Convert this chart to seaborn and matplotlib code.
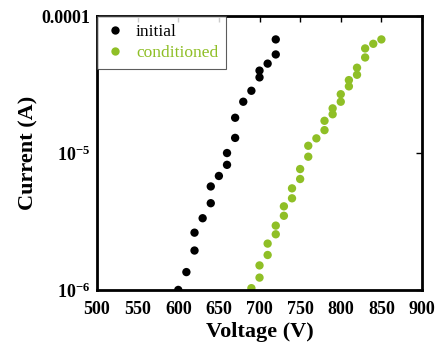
import numpy as np
import pandas as pd
import matplotlib
matplotlib.use('Agg')
import matplotlib.pyplot as plt
import seaborn as sns
from matplotlib.ticker import FuncFormatter, FixedLocator

# data
initial_v = [600, 610, 620, 620, 630, 640, 640, 650, 660, 660, 670, 670,
             680, 690, 700, 700, 710, 720, 720]
initial_i = [1.0e-6, 1.35e-6, 1.94e-6, 2.62e-6, 3.34e-6, 4.3e-6, 5.7e-6,
             6.8e-6, 8.2e-6, 1.0e-5, 1.29e-5, 1.81e-5, 2.37e-5, 2.85e-5,
             3.57e-5, 4.0e-5, 4.5e-5, 5.25e-5, 6.76e-5]
cond_v = [690, 700, 700, 710, 710, 720, 720, 730, 730, 740, 740, 750, 750,
          760, 760, 770, 780, 780, 790, 790, 800, 800, 810, 810, 820, 820,
          830, 830, 840, 850]
cond_i = [1.03e-6, 1.23e-6, 1.51e-6, 1.8e-6, 2.18e-6, 2.55e-6, 2.95e-6,
          3.48e-6, 4.08e-6, 4.67e-6, 5.52e-6, 6.46e-6, 7.64e-6, 9.4e-6,
          1.13e-5, 1.28e-5, 1.47e-5, 1.72e-5, 1.92e-5, 2.12e-5, 2.37e-5,
          2.69e-5, 3.07e-5, 3.41e-5, 3.73e-5, 4.2e-5, 4.99e-5, 5.81e-5,
          6.28e-5, 6.76e-5]
series_names = ['initial', 'conditioned']
series_colors = ['#000000', '#8fbf26']

df = pd.DataFrame({
    'voltage': initial_v + cond_v,
    'current': initial_i + cond_i,
    'state': ['initial'] * len(initial_v) + ['conditioned'] * len(cond_v),
})

sns.set_theme(style='white')
plt.rcParams['font.family'] = ['Liberation Serif', 'DejaVu Serif']
plt.rcParams['text.color'] = 'black'
plt.rcParams['axes.labelcolor'] = 'black'
plt.rcParams['mathtext.fontset'] = 'custom'
plt.rcParams['mathtext.rm'] = 'Liberation Serif:bold'
plt.rcParams['mathtext.bf'] = 'Liberation Serif:bold'
plt.rcParams['mathtext.default'] = 'bf'

fig = plt.figure(figsize=(4.38, 3.51), dpi=100)
ax = fig.add_axes([0.2215, 0.174, 0.742, 0.780])

sns.scatterplot(data=df, x='voltage', y='current', hue='state',
                hue_order=series_names, palette=dict(zip(series_names, series_colors)),
                s=36, edgecolor='none', linewidth=0, ax=ax, legend=False)

ax.set_yscale('log')
ax.set_xlim(500, 900)
ax.set_ylim(1e-6, 1e-4)
ax.set_xticks(np.arange(500, 901, 50))
ax.yaxis.set_major_locator(FixedLocator([1e-6, 1e-5, 1e-4]))
ax.yaxis.set_minor_locator(FixedLocator([]))


def yfmt(v, pos):
    if abs(v - 1e-4) < 1e-9:
        return '0.0001'
    return r'$\mathbf{10^{%d}}$' % int(round(np.log10(v)))


ax.yaxis.set_major_formatter(FuncFormatter(yfmt))

for sp in ax.spines.values():
    sp.set_linewidth(2.0)
    sp.set_color('black')
ax.tick_params(axis='both', which='major', direction='in', length=4, width=1,
               top=True, right=True, labelsize=13, pad=5, colors='black')
ax.tick_params(axis='x', pad=8)
for lab in ax.get_xticklabels() + ax.get_yticklabels():
    lab.set_fontweight('bold')

ax.set_xlabel('Voltage (V)', fontsize=16, fontweight='bold', labelpad=3)
ax.set_ylabel('Current (A)', fontsize=16, fontweight='bold', labelpad=2)

handles = [plt.Line2D([], [], marker='o', linestyle='none', markersize=6,
                      markerfacecolor=c, markeredgecolor='none') for c in series_colors]
leg = ax.legend(handles, series_names, loc='upper left', borderaxespad=0,
                frameon=True, fancybox=False, fontsize=12.5, handletextpad=0.6,
                handlelength=1.2, borderpad=0.45, labelspacing=0.3)
leg.get_frame().set_edgecolor('#333333')
leg.get_frame().set_linewidth(0.8)
for t, c in zip(leg.get_texts(), series_colors):
    t.set_color(c)

fig.savefig('out.png', dpi=100)
